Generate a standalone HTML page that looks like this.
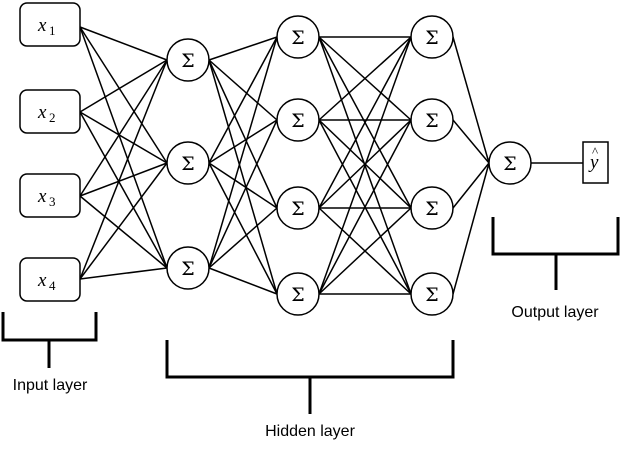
<!DOCTYPE html>
<html><head><meta charset="utf-8"><style>
html,body{margin:0;padding:0;background:#fff;}
svg{display:block;}
.m{font-family:"Liberation Serif",serif;font-style:italic;font-size:19px;}
.s{font-family:"Liberation Serif",serif;font-size:13px;}
.g{font-family:"DejaVu Serif","Liberation Serif",serif;font-size:19px;}
.l{font-family:"Liberation Sans",sans-serif;font-size:16px;}
</style></head><body>
<svg width="644" height="459" viewBox="0 0 644 459" xmlns="http://www.w3.org/2000/svg">
<g stroke="#000" stroke-width="1.5" fill="none">
<!-- input -> L1 -->
<line x1="80" y1="27" x2="167" y2="60"/><line x1="80" y1="27" x2="167" y2="163"/><line x1="80" y1="27" x2="167" y2="268"/>
<line x1="80" y1="112" x2="167" y2="60"/><line x1="80" y1="112" x2="167" y2="163"/><line x1="80" y1="112" x2="167" y2="268"/>
<line x1="80" y1="196" x2="167" y2="60"/><line x1="80" y1="196" x2="167" y2="163"/><line x1="80" y1="196" x2="167" y2="268"/>
<line x1="80" y1="279" x2="167" y2="60"/><line x1="80" y1="279" x2="167" y2="163"/><line x1="80" y1="279" x2="167" y2="268"/>
<!-- L1 -> L2 -->
<line x1="209" y1="60" x2="277" y2="37"/><line x1="209" y1="60" x2="277" y2="120"/><line x1="209" y1="60" x2="277" y2="208"/><line x1="209" y1="60" x2="277" y2="294"/>
<line x1="209" y1="163" x2="277" y2="37"/><line x1="209" y1="163" x2="277" y2="120"/><line x1="209" y1="163" x2="277" y2="208"/><line x1="209" y1="163" x2="277" y2="294"/>
<line x1="209" y1="268" x2="277" y2="37"/><line x1="209" y1="268" x2="277" y2="120"/><line x1="209" y1="268" x2="277" y2="208"/><line x1="209" y1="268" x2="277" y2="294"/>
<!-- L2 -> L3 -->
<line x1="319" y1="37" x2="411" y2="37"/><line x1="319" y1="37" x2="411" y2="120"/><line x1="319" y1="37" x2="411" y2="208"/><line x1="319" y1="37" x2="411" y2="294"/>
<line x1="319" y1="120" x2="411" y2="37"/><line x1="319" y1="120" x2="411" y2="120"/><line x1="319" y1="120" x2="411" y2="208"/><line x1="319" y1="120" x2="411" y2="294"/>
<line x1="319" y1="208" x2="411" y2="37"/><line x1="319" y1="208" x2="411" y2="120"/><line x1="319" y1="208" x2="411" y2="208"/><line x1="319" y1="208" x2="411" y2="294"/>
<line x1="319" y1="294" x2="411" y2="37"/><line x1="319" y1="294" x2="411" y2="120"/><line x1="319" y1="294" x2="411" y2="208"/><line x1="319" y1="294" x2="411" y2="294"/>
<!-- L3 -> out -->
<line x1="453" y1="37" x2="489" y2="163"/><line x1="453" y1="120" x2="489" y2="163"/><line x1="453" y1="208" x2="489" y2="163"/><line x1="453" y1="294" x2="489" y2="163"/>
<line x1="531" y1="163" x2="583" y2="163"/>
</g>
<g stroke="#000" stroke-width="1.5" fill="#fff">
<rect x="20" y="3" width="60" height="43" rx="7"/>
<rect x="20" y="90" width="60" height="43" rx="7"/>
<rect x="20" y="174" width="60" height="43" rx="7"/>
<rect x="20" y="258" width="60" height="43" rx="7"/>
<circle cx="188" cy="60" r="21"/><circle cx="188" cy="163" r="21"/><circle cx="188" cy="268" r="21"/>
<circle cx="298" cy="37" r="21"/><circle cx="298" cy="120" r="21"/><circle cx="298" cy="208" r="21"/><circle cx="298" cy="294" r="21"/>
<circle cx="432" cy="37" r="21"/><circle cx="432" cy="120" r="21"/><circle cx="432" cy="208" r="21"/><circle cx="432" cy="294" r="21"/>
<circle cx="510" cy="163" r="21"/>
<rect x="583" y="142" width="25" height="41"/>
</g>
<g>
<text class="m" x="38" y="31">x</text><text class="s" x="49" y="35">1</text>
<text class="m" x="38" y="118">x</text><text class="s" x="49" y="122">2</text>
<text class="m" x="38" y="202">x</text><text class="s" x="49" y="206">3</text>
<text class="m" x="38" y="286">x</text><text class="s" x="49" y="290">4</text>
<text class="m" x="590" y="168">y</text><text class="s" x="592" y="156">^</text>
</g>
<g class="g" text-anchor="middle">
<text x="188" y="67">Σ</text><text x="188" y="170">Σ</text><text x="188" y="275">Σ</text>
<text x="298" y="44">Σ</text><text x="298" y="127">Σ</text><text x="298" y="215">Σ</text><text x="298" y="301">Σ</text>
<text x="432" y="44">Σ</text><text x="432" y="127">Σ</text><text x="432" y="215">Σ</text><text x="432" y="301">Σ</text>
<text x="510" y="170">Σ</text>
</g>
<g stroke="#000" stroke-width="3" fill="none">
<polyline points="3,312 3,340 96,340 96,312"/><line x1="49" y1="340" x2="49" y2="368"/>
<polyline points="167,340 167,377 453,377 453,340"/><line x1="310" y1="377" x2="310" y2="414"/>
<polyline points="493,217 493,254 618,254 618,217"/><line x1="556" y1="254" x2="556" y2="290"/>
</g>
<g class="l" text-anchor="middle" fill="#000">
<text x="50" y="390">Input layer</text>
<text x="310" y="436">Hidden layer</text>
<text x="555" y="317">Output layer</text>
</g>
</svg>
</body></html>
